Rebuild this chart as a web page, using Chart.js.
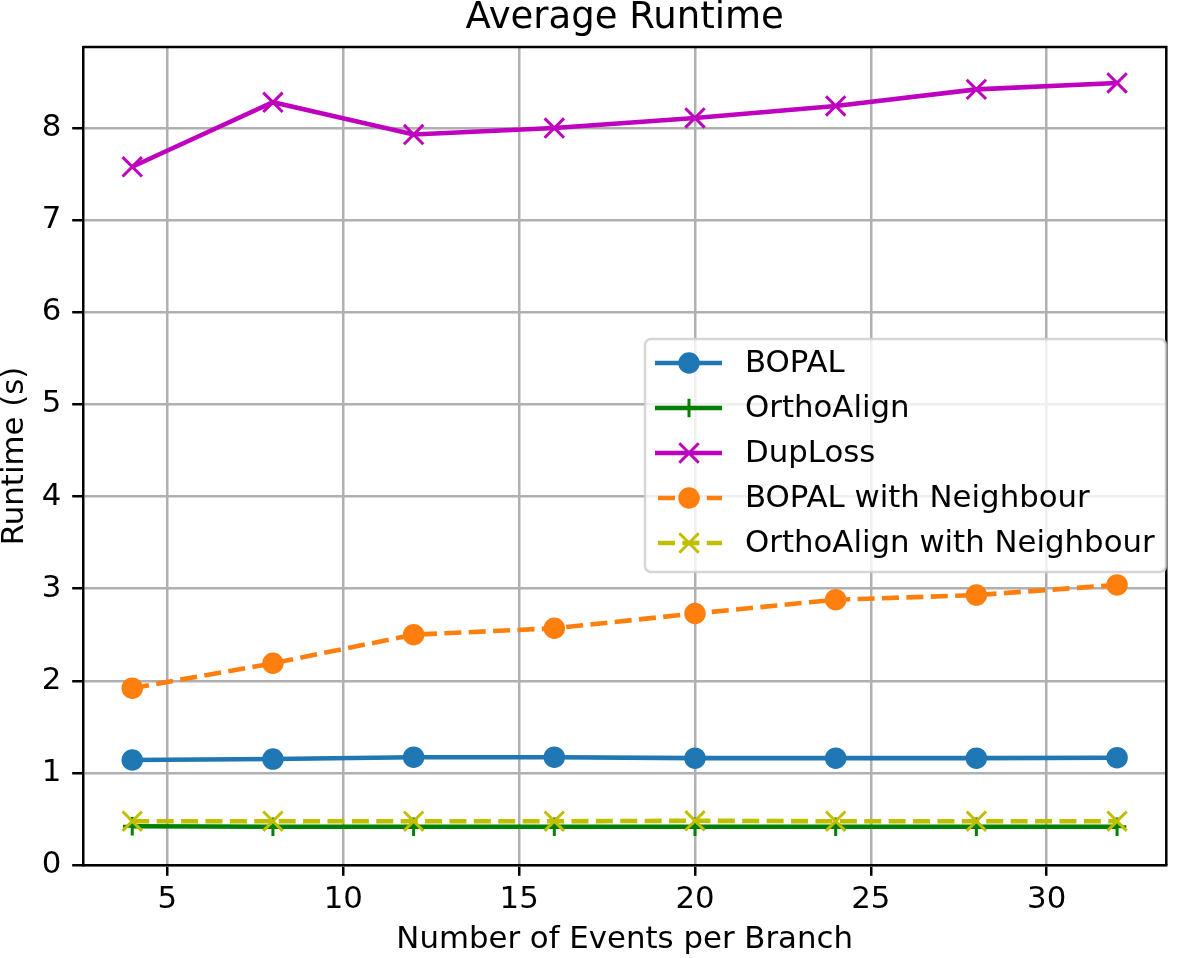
<!DOCTYPE html>
<html>
<head>
<meta charset="utf-8">
<script src="https://cdn.jsdelivr.net/npm/chart.js@4/dist/chart.umd.min.js"></script>
<style>
  html, body { margin: 0; padding: 0; background: #fff; }
  canvas { display: block; }
</style>
</head>
<body>
<canvas id="runtimeChart" width="1183" height="958"></canvas>
<script>
// events per branch (x axis)
const events = [4, 8, 12, 16, 20, 24, 28, 32];

// average runtimes in seconds
const bopal = [1.14, 1.15, 1.17, 1.17, 1.16, 1.16, 1.16, 1.165];
const orthoAlign = [0.42, 0.415, 0.415, 0.415, 0.415, 0.415, 0.415, 0.415];
const dupLoss = [7.58, 8.28, 7.93, 8.00, 8.11, 8.24, 8.42, 8.49];
const bopalNeighbour = [1.92, 2.19, 2.50, 2.57, 2.73, 2.88, 2.93, 3.04];
const orthoNeighbour = [0.475, 0.475, 0.475, 0.475, 0.48, 0.475, 0.475, 0.475];

const seriesNames = ['BOPAL', 'OrthoAlign', 'DupLoss', 'BOPAL with Neighbour', 'OrthoAlign with Neighbour'];

const xTicks = [5, 10, 15, 20, 25, 30];
const yTicks = [0, 1, 2, 3, 4, 5, 6, 7, 8];

const FONT = 'DejaVu Sans';
const FS = 30.8;
const LW = 4.6;
const DASH = [17, 7.4];

function toPoints(values) {
  return events.map((x, i) => ({ x: x, y: values[i] }));
}

const datasets = [
  { label: seriesNames[0], data: toPoints(bopal), borderColor: '#1f77b4', backgroundColor: '#1f77b4',
    pointStyle: 'circle', pointRadius: 9.25, pointBorderWidth: 3, borderDash: [], order: 5 },
  { label: seriesNames[1], data: toPoints(orthoAlign), borderColor: '#008000', backgroundColor: '#008000',
    pointStyle: 'cross', pointRadius: 9.25, pointBorderWidth: 3, borderDash: [], order: 4 },
  { label: seriesNames[2], data: toPoints(dupLoss), borderColor: '#bf00bf', backgroundColor: '#bf00bf',
    pointStyle: 'crossRot', pointRadius: 13.7, pointBorderWidth: 3, borderDash: [], order: 3 },
  { label: seriesNames[3], data: toPoints(bopalNeighbour), borderColor: '#ff7f0e', backgroundColor: '#ff7f0e',
    pointStyle: 'circle', pointRadius: 9.25, pointBorderWidth: 3, borderDash: DASH, order: 2 },
  { label: seriesNames[4], data: toPoints(orthoNeighbour), borderColor: '#bfbf00', backgroundColor: '#bfbf00',
    pointStyle: 'crossRot', pointRadius: 13.7, pointBorderWidth: 3, borderDash: DASH, order: 1 }
];
datasets.forEach(ds => {
  ds.borderWidth = LW;
  ds.pointBorderColor = ds.borderColor;
  ds.pointBackgroundColor = ds.backgroundColor;
  ds.tension = 0;
  ds.fill = false;
});

// marker for the legend, drawn like the chart's points
function drawMarker(ctx, style, x, y, r, color, bw) {
  ctx.save();
  ctx.setLineDash([]);
  ctx.strokeStyle = color;
  ctx.fillStyle = color;
  ctx.lineWidth = bw;
  ctx.beginPath();
  if (style === 'circle') {
    ctx.arc(x, y, r, 0, Math.PI * 2);
    ctx.fill();
    ctx.stroke();
  } else if (style === 'cross') {
    ctx.moveTo(x - r, y); ctx.lineTo(x + r, y);
    ctx.moveTo(x, y - r); ctx.lineTo(x, y + r);
    ctx.stroke();
  } else {
    const d = r * Math.SQRT1_2;
    ctx.moveTo(x - d, y - d); ctx.lineTo(x + d, y + d);
    ctx.moveTo(x - d, y + d); ctx.lineTo(x + d, y - d);
    ctx.stroke();
  }
  ctx.restore();
}

const framePlugin = {
  id: 'frame',
  afterDraw(chart) {
    const ctx = chart.ctx;
    const a = chart.chartArea;

    // top and right spines
    ctx.save();
    ctx.strokeStyle = '#000';
    ctx.lineWidth = 2.5;
    ctx.beginPath();
    ctx.moveTo(a.left, a.top);
    ctx.lineTo(a.right, a.top);
    ctx.lineTo(a.right, a.bottom);
    ctx.stroke();

    // title
    ctx.fillStyle = '#000';
    ctx.font = '37px "' + FONT + '"';
    ctx.textAlign = 'center';
    ctx.textBaseline = 'alphabetic';
    ctx.fillText('Average Runtime', (a.left + a.right) / 2, 28);

    // legend box
    const bx = 645, by = 339, bw = 521, bh = 233, rad = 6;
    ctx.beginPath();
    ctx.moveTo(bx + rad, by);
    ctx.arcTo(bx + bw, by, bx + bw, by + bh, rad);
    ctx.arcTo(bx + bw, by + bh, bx, by + bh, rad);
    ctx.arcTo(bx, by + bh, bx, by, rad);
    ctx.arcTo(bx, by, bx + bw, by, rad);
    ctx.closePath();
    ctx.fillStyle = 'rgba(255,255,255,0.8)';
    ctx.fill();
    ctx.strokeStyle = 'rgba(204,204,204,0.8)';
    ctx.lineWidth = 2.5;
    ctx.stroke();

    const rowY = [363, 408, 453, 498, 543];
    chart.data.datasets.forEach((ds, i) => {
      const y = rowY[i];
      ctx.save();
      ctx.strokeStyle = ds.borderColor;
      ctx.lineWidth = LW;
      ctx.setLineDash(ds.borderDash || []);
      ctx.lineDashOffset = ds.borderDash.length ? -3 : 0;
      ctx.beginPath();
      ctx.moveTo(655, y);
      ctx.lineTo(722, y);
      ctx.stroke();
      ctx.restore();
      drawMarker(ctx, ds.pointStyle, 689, y, ds.pointRadius, ds.borderColor, ds.pointBorderWidth);
      ctx.fillStyle = '#000';
      ctx.font = FS + 'px "' + FONT + '"';
      ctx.textAlign = 'left';
      ctx.textBaseline = 'middle';
      ctx.fillText(ds.label, 745, y + 1);
    });
    ctx.restore();
  }
};

const ctx = document.getElementById('runtimeChart').getContext('2d');
new Chart(ctx, {
  type: 'line',
  data: { datasets: datasets },
  options: {
    responsive: false,
    animation: false,
    devicePixelRatio: 1,
    layout: { padding: { top: 47, right: 1, left: 0, bottom: 0 } },
    plugins: {
      legend: { display: false },
      title: { display: false },
      tooltip: { enabled: false }
    },
    scales: {
      x: {
        type: 'linear',
        min: 2.6,
        max: 33.4,
        afterBuildTicks: scale => { scale.ticks = xTicks.map(v => ({ value: v })); },
        afterFit: scale => { scale.height = 93; },
        grid: { color: '#b0b0b0', lineWidth: 2.5, tickColor: '#000', tickWidth: 2.5, tickLength: 10.8 },
        border: { color: '#000', width: 2.5 },
        ticks: { color: '#000', font: { family: FONT, size: FS }, padding: 6, maxRotation: 0, autoSkip: false },
        title: { display: true, text: 'Number of Events per Branch', color: '#000',
                 font: { family: FONT, size: FS, lineHeight: 1 }, padding: { top: 0, bottom: 3 } }
      },
      y: {
        type: 'linear',
        min: 0,
        max: 8.88,
        afterBuildTicks: scale => { scale.ticks = yTicks.map(v => ({ value: v })); },
        afterFit: scale => { scale.width = 83; },
        grid: { color: '#b0b0b0', lineWidth: 2.5, tickColor: '#000', tickWidth: 2.5, tickLength: 10.8 },
        border: { color: '#000', width: 2.5 },
        ticks: { color: '#000', font: { family: FONT, size: FS }, padding: 10.8, autoSkip: false },
        title: { display: true, text: 'Runtime (s)', color: '#000',
                 font: { family: FONT, size: FS, lineHeight: 1 }, padding: { top: 0, bottom: 0 } }
      }
    }
  },
  plugins: [framePlugin]
});
</script>
</body>
</html>
